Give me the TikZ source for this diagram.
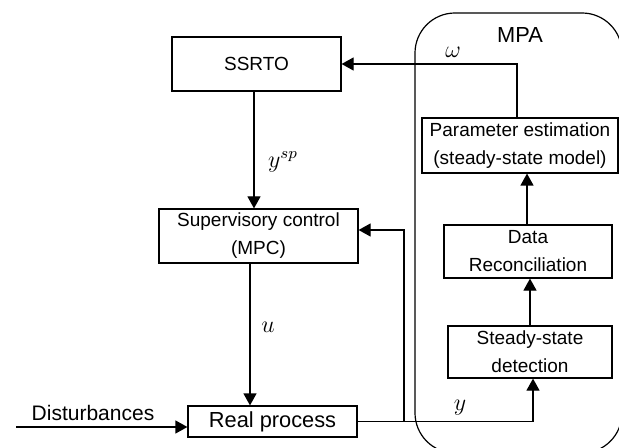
\documentclass[tikz,border=0pt]{standalone}
\usepackage{fontspec}
\setmainfont{Liberation Sans}
\usetikzlibrary{arrows.meta}

\tikzset{
  blk/.style={draw, line width=0.6pt, inner sep=0pt, align=center,
              font=\fontsize{9.5}{14}\selectfont},
  arr/.style={-{Triangle[length=6pt,width=6.5pt]}, line width=0.6pt},
  lnk/.style={line width=0.6pt},
  sig/.style={font=\fontsize{12}{14}\selectfont}
}

\begin{document}
\begin{tikzpicture}[x=0.5pt, y=-0.5pt]

  \useasboundingbox (0,0) rectangle (619,448);

  % ***************** MPA *****************
  \begin{scope}
    \clip (0,0) rectangle (619,448);
    \draw[lnk, rounded corners=20pt] (415,13) rectangle (622,453);
  \end{scope}
  \node[font=\fontsize{10.9}{13}\selectfont] (mpa) at (520,35) {MPA};

  % ***************** CONTROL LAYERS *****************
  \node[blk, minimum width=84.5pt, minimum height=27pt] (ssrto) at (256.5,64) {SSRTO};
  \node[blk, minimum width=99.5pt, minimum height=27pt] (mpc) at (258.5,236)
    {Supervisory control\\(MPC)};
  \node[blk, minimum width=84.5pt, minimum height=15.5pt,
        font=\fontsize{10.9}{13}\selectfont] (proc) at (272.5,421.5) {Real process};

  % ***************** MPA BLOCKS *****************
  \node[blk, minimum width=82pt, minimum height=26pt] (ssd) at (530,352)
    {Steady-state\\detection};
  \node[blk, minimum width=84pt, minimum height=26.5pt] (dr) at (528,251.5)
    {Data\\Reconciliation};
  \node[blk, minimum width=98pt, minimum height=27.5pt] (pe) at (520,145.5)
    {Parameter estimation\\(steady-state model)};

  % ***************** CONNECTIONS *****************
  \coordinate (dist) at (16,427);
  \node[font=\fontsize{10.5}{13}\selectfont] (distlbl) at (93,413) {Disturbances};
  \draw[arr] (dist) -- (dist -| proc.west);

  \draw[arr] ([xshift=-1.25pt]ssrto.south) -- ([xshift=-1.25pt]ssrto.south |- mpc.north);
  \node[sig] (ysp) at (283,162) {$y^{sp}$};

  \draw[arr] ([xshift=-4.25pt]mpc.south) -- ([xshift=-4.25pt]mpc.south |- proc.north);
  \node[sig] (u) at (268,327) {$u$};

  \coordinate (tap) at (404,421.5);
  \draw[arr] (proc.east) -| ([xshift=1.5pt]ssd.south);
  \draw[arr] (tap) |- ([yshift=3pt]mpc.east);
  \node[sig] (y) at (460,408) {$y$};

  \draw[arr] (ssd) -- (ssd |- dr.south);
  \draw[arr] ([xshift=-0.5pt]dr.north) -- ([xshift=-0.5pt]dr.north |- pe.south);

  \draw[arr] ([xshift=-1.5pt]pe.north) |- (ssrto.east);
  \node[sig] (w) at (453,52) {$\omega$};

\end{tikzpicture}
\end{document}
